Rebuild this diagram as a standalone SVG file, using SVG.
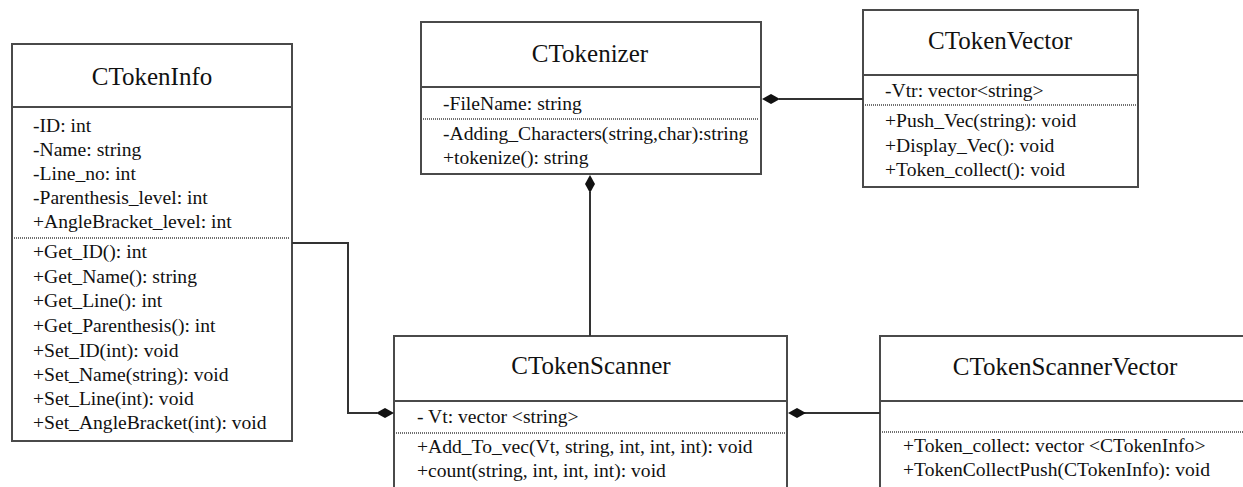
<svg xmlns="http://www.w3.org/2000/svg" width="1243" height="487" viewBox="0 0 1243 487">
<defs>
<style>
.box{fill:#ffffff;stroke:#4a4a4a;stroke-width:2}
.div{stroke:#4a4a4a;stroke-width:2}
.dash{stroke:#707070;stroke-width:2;stroke-dasharray:1 1}
.title{font-family:"Liberation Serif","Times New Roman",serif;font-size:25px;fill:#111;text-anchor:middle}
.t{font-family:"Liberation Serif","Times New Roman",serif;font-size:19.6px;fill:#111}
.con{fill:none;stroke:#333;stroke-width:2}
.dia{fill:#111;stroke:none}
</style>
</defs>
<rect width="1243" height="487" fill="#ffffff"/>

<g id="CTokenInfo">
<rect class="box" x="12" y="44" width="280" height="397"/>
<line class="div" x1="12" y1="107" x2="292" y2="107"/>
<line class="dash" x1="14" y1="238" x2="290" y2="238"/>
<text class="title" x="152" y="85">CTokenInfo</text>
<text class="t" x="33" y="132">-ID: int</text>
<text class="t" x="33" y="156">-Name: string</text>
<text class="t" x="33" y="180">-Line_no: int</text>
<text class="t" x="33" y="204">-Parenthesis_level: int</text>
<text class="t" x="33" y="228">+AngleBracket_level: int</text>
<text class="t" x="33" y="258">+Get_ID(): int</text>
<text class="t" x="33" y="283">+Get_Name(): string</text>
<text class="t" x="33" y="307">+Get_Line(): int</text>
<text class="t" x="33" y="332">+Get_Parenthesis(): int</text>
<text class="t" x="33" y="357">+Set_ID(int): void</text>
<text class="t" x="33" y="381">+Set_Name(string): void</text>
<text class="t" x="33" y="405">+Set_Line(int): void</text>
<text class="t" x="33" y="429">+Set_AngleBracket(int): void</text>
</g>

<g id="CTokenizer">
<rect class="box" x="421" y="22" width="340" height="152"/>
<line class="div" x1="421" y1="87" x2="761" y2="87"/>
<line class="dash" x1="423" y1="119" x2="759" y2="119"/>
<text class="title" x="590" y="62">CTokenizer</text>
<text class="t" x="443" y="110">-FileName: string</text>
<text class="t" x="443" y="140">-Adding_Characters(string,char):string</text>
<text class="t" x="443" y="164">+tokenize(): string</text>
</g>

<g id="CTokenVector">
<rect class="box" x="863" y="10" width="275" height="177"/>
<line class="div" x1="863" y1="75" x2="1138" y2="75"/>
<line class="dash" x1="865" y1="105" x2="1136" y2="105"/>
<text class="title" x="1000" y="49">CTokenVector</text>
<text class="t" x="885" y="97">-Vtr: vector&lt;string&gt;</text>
<text class="t" x="885" y="127">+Push_Vec(string): void</text>
<text class="t" x="885" y="152">+Display_Vec(): void</text>
<text class="t" x="885" y="176">+Token_collect(): void</text>
</g>

<g id="CTokenScanner">
<rect class="box" x="394" y="336" width="393" height="180"/>
<line class="div" x1="394" y1="401" x2="787" y2="401"/>
<line class="dash" x1="396" y1="433" x2="785" y2="433"/>
<text class="title" x="591" y="374">CTokenScanner</text>
<text class="t" x="417" y="423">- Vt: vector &lt;string&gt;</text>
<text class="t" x="417" y="453">+Add_To_vec(Vt, string, int, int, int): void</text>
<text class="t" x="417" y="477">+count(string, int, int, int): void</text>
</g>

<g id="CTokenScannerVector">
<rect class="box" x="880" y="336" width="400" height="180"/>
<line class="div" x1="880" y1="401" x2="1243" y2="401"/>
<line class="dash" x1="882" y1="432" x2="1243" y2="432"/>
<text class="title" x="1065" y="375">CTokenScannerVector</text>
<text class="t" x="903" y="452">+Token_collect: vector &lt;CTokenInfo&gt;</text>
<text class="t" x="903" y="476">+TokenCollectPush(CTokenInfo): void</text>
</g>

<g id="connectors">
<line class="con" x1="779" y1="99" x2="863" y2="99"/>
<polygon class="dia" points="762,99 771,94 780,99 771,104"/>
<line class="con" x1="590" y1="192" x2="590" y2="336"/>
<polygon class="dia" points="590,175 595,184 590,193 585,184"/>
<polyline class="con" points="292,243 348,243 348,413 377,413"/>
<polygon class="dia" points="376,413 385,408 394,413 385,418"/>
<line class="con" x1="804" y1="413" x2="880" y2="413"/>
<polygon class="dia" points="788,413 797,408 806,413 797,418"/>
</g>
</svg>
